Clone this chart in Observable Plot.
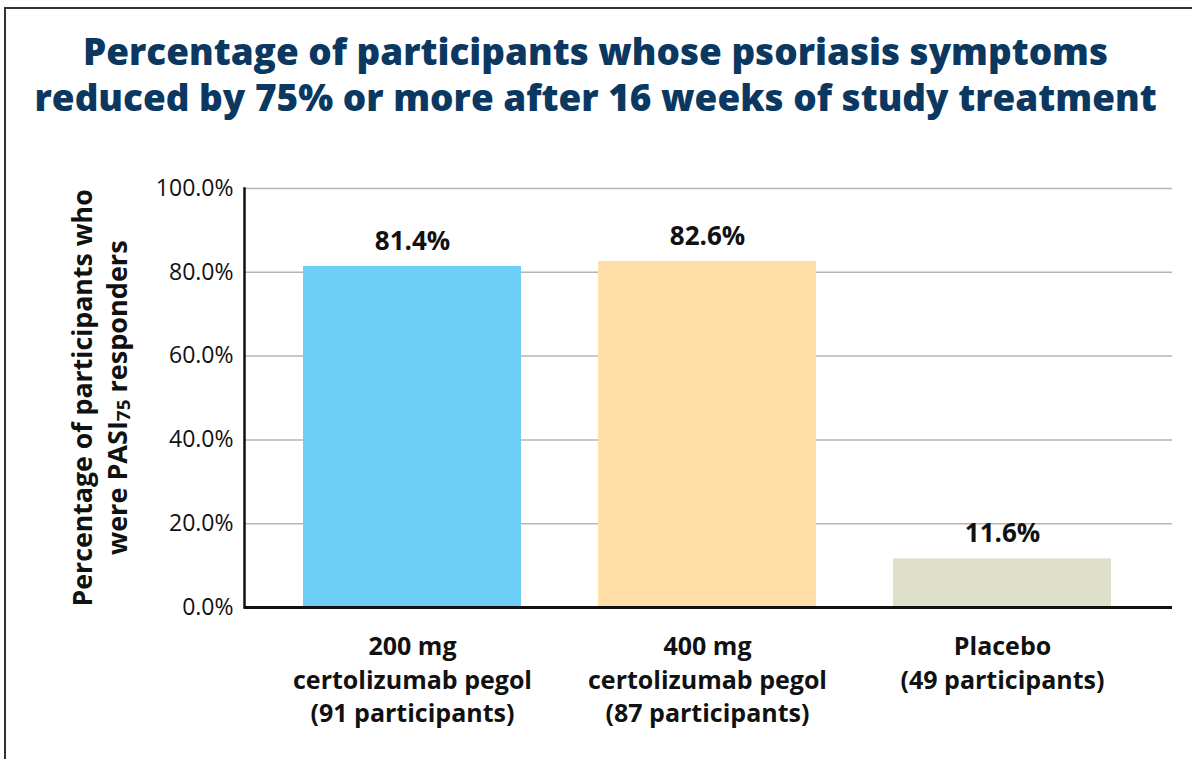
<!DOCTYPE html>
<html>
<head>
<meta charset="utf-8">
<script src="https://cdn.jsdelivr.net/npm/d3@7"></script>
<script src="https://cdn.jsdelivr.net/npm/@observablehq/plot@0.6"></script>
<style>
  html, body { margin: 0; padding: 0; background: #fff; }
  body { width: 1192px; height: 759px; position: relative; overflow: hidden; font-family: "Open Sans", sans-serif; }
  #border { position: absolute; left: 4px; top: 7px; width: 1200px; height: 800px; border-top: 2px solid #333; border-left: 2px solid #333; }
  #title { position: absolute; left: 0; top: 28px; width: 1192px; text-align: center; color: #0b3861; font-weight: 800; font-size: 37px; line-height: 46px; }
  #title span { display: inline-block; white-space: nowrap; transform-origin: center; }
  #ylabel { position: absolute; left: 100px; top: 398px; width: 460px; transform: translate(-50%, -50%) rotate(-90deg); white-space: nowrap; text-align: center; font-weight: 700; font-size: 26px; line-height: 35px; color: #111; }
  #ylabel span { display: inline-block; transform-origin: center; }
  #ylabel sub { font-size: 0.7em; vertical-align: -0.15em; line-height: 0; }
  #chart { position: absolute; left: 0; top: 150px; }
</style>
</head>
<body>
<div id="border"></div>
<div id="title"><span id="t1">Percentage of participants whose psoriasis symptoms</span><br><span id="t2">reduced by 75% or more after 16 weeks of study treatment</span></div>
<div id="ylabel"><span id="y1">Percentage of participants who</span><br><span id="y2">were PASI<sub>75</sub> responders</span></div>
<div id="chart"></div>
<script>
const groups = ["200 mg certolizumab pegol", "400 mg certolizumab pegol", "Placebo"];
const groupLabels = ["200 mg\ncertolizumab pegol\n(91 participants)", "400 mg\ncertolizumab pegol\n(87 participants)", "Placebo\n(49 participants)"];
const percents = [81.4, 82.6, 11.6];
const barColors = ["#6dcff6", "#ffdfa7", "#dfe0c9"];
const yTicks = [0, 20, 40, 60, 80, 100];

const data = groups.map((g, i) => ({group: g, value: percents[i], color: barColors[i]}));
const labelOf = new Map(groups.map((g, i) => [g, groupLabels[i]]));

const plot = Plot.plot({
  width: 1192,
  height: 609,
  marginLeft: 244,
  marginRight: 20,
  marginTop: 38,
  marginBottom: 152,
  style: {fontFamily: "'Open Sans', sans-serif", color: "#111", background: "transparent"},
  x: {domain: groups, range: [303, 1111], paddingInner: 0.262, paddingOuter: 0, label: null},
  y: {domain: [0, 100], label: null},
  marks: [
    Plot.ruleY(yTicks.filter(d => d > 0), {stroke: "#b5b5b5", strokeWidth: 1.5}),
    Plot.barY(data, {x: "group", y: "value", fill: "color"}),
    Plot.text(data, {x: "group", y: "value", text: d => d.value.toFixed(1) + "%", dy: -25, fontSize: 26, fontWeight: 700, fill: "#111"}),
    Plot.axisY({ticks: yTicks, tickFormat: d => d.toFixed(1) + "%", tickSize: 0, tickPadding: 11, fontSize: 23, label: null}),
    Plot.axisX({tickFormat: d => labelOf.get(d), tickSize: 0, tickPadding: 24, fontSize: 25, fontWeight: 700, lineHeight: 1.34, label: null}),
    Plot.frame({anchor: "left", stroke: "#111", strokeWidth: 2.5}),
    Plot.ruleY([0], {stroke: "#111", strokeWidth: 3})
  ]
});
document.getElementById("chart").appendChild(plot);

// fit text lines to the reference widths (offsetWidth ignores transforms)
const fit = (id, w) => { const el = document.getElementById(id); const s = w / el.offsetWidth; el.style.transform = `scaleX(${s})`; };
fit("t1", 1025);
fit("t2", 1122);
fit("y1", 417);
fit("y2", 315);
</script>
</body>
</html>
